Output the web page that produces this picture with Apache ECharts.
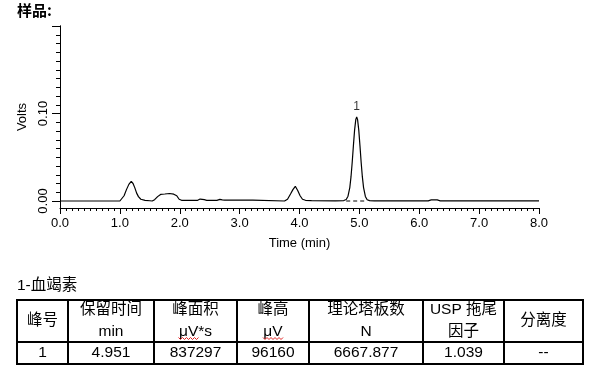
<!DOCTYPE html>
<html><head><meta charset="utf-8">
<script src="https://cdn.jsdelivr.net/npm/echarts@6/dist/echarts.min.js"></script>
<style>html,body{margin:0;padding:0;background:#fff}#c{width:601px;height:377px}</style>
</head><body><div id="c"></div>
<script>
const chartTitle = '样品:';
const compoundTitle = '1-血竭素';
const xAxisName = 'Time (min)';
const yAxisName = 'Volts';

const times = [0.00, 0.50, 1.00, 1.03, 1.07, 1.11, 1.15, 1.19, 1.22, 1.25, 1.28, 1.31, 1.35, 1.42, 1.50, 1.54,
  1.58, 1.63, 1.68, 1.75, 1.83, 1.90, 1.95, 1.99, 2.03, 2.30, 2.34, 2.37, 2.41, 2.45, 2.62, 2.67, 2.71, 2.75,
  3.22, 3.24, 3.75, 3.80, 3.85, 3.89, 3.93, 3.97, 4.01, 4.05, 4.10, 4.20, 4.60, 4.74, 4.78, 4.81, 4.84, 4.86,
  4.88, 4.90, 4.92, 4.94, 4.955, 4.97, 4.99, 5.01, 5.03, 5.05, 5.07, 5.10, 5.13, 5.17, 5.25, 6.15, 6.20, 6.30,
  6.35, 8.00];
const volts = [0.0000, 0.0000, 0.0000, 0.0010, 0.0060, 0.0130, 0.0190, 0.0225, 0.0200, 0.0150, 0.0090, 0.0050,
  0.0020, 0.0008, 0.0003, 0.0000, 0.0015, 0.0050, 0.0075, 0.0080, 0.0086, 0.0078, 0.0060, 0.0020, 0.0008,
  0.0008, 0.0022, 0.0028, 0.0015, 0.0008, 0.0008, 0.0018, 0.0012, 0.0009, 0.0009, 0.0001, 0.0000, 0.0020,
  0.0080, 0.0130, 0.0168, 0.0120, 0.0060, 0.0020, 0.0008, 0.0004, 0.0002, 0.0005, 0.0018, 0.0055, 0.0153,
  0.0275, 0.0440, 0.0630, 0.0810, 0.0930, 0.0962, 0.0930, 0.0810, 0.0630, 0.0440, 0.0275, 0.0153, 0.0052,
  0.0014, 0.0004, 0.0002, 0.0002, 0.0012, 0.0012, 0.0002, 0.0002];

const baselineTimes = [4.78, 5.13];
const baselineVolts = [0.0000, 0.0000];

const peakTimes = [4.955];
const peakVolts = [0.0962];
const peakLabels = ['1'];

const yLabelTicks = [0, 0.1];
const yMajorTicks = [0, 0.1, 0.2];
const yMinorTicks = [0.01, 0.02, 0.03, 0.04, 0.05, 0.06, 0.07, 0.08, 0.09,
  0.11, 0.12, 0.13, 0.14, 0.15, 0.16, 0.17, 0.18, 0.19];

const tableHeader1 = ['峰号', '保留时间', '峰面积', '峰高', '理论塔板数', 'USP 拖尾', '分离度'];
const tableHeader2 = ['', 'min', 'μV*s', 'μV', 'N', '因子', ''];
const tableRow = ['1', '4.951', '837297', '96160', '6667.877', '1.039', '--'];

// ---- layout ----
const latin = "'Liberation Sans', Arial, 'Noto Sans CJK SC', sans-serif";
const cjk = "'Noto Sans CJK SC', 'Liberation Sans', sans-serif";
const colX = [17, 68, 154, 237, 309, 423, 504, 583];
const rowY = [300, 342, 364];
const tFont = 15.5;

const graphics = [];
graphics.push({type: 'text', left: 17, top: 3, style: {text: chartTitle, fontSize: 15, fontWeight: 'bold', fontFamily: cjk, fill: '#000'}});
graphics.push({type: 'text', x: 17, y: 285.5, style: {text: compoundTitle, fontSize: tFont, fontFamily: latin, fill: '#000', verticalAlign: 'middle', align: 'left'}});
rowY.forEach(y => graphics.push({type: 'line', shape: {x1: colX[0] - 1, y1: y, x2: colX[colX.length - 1] + 1, y2: y}, style: {stroke: '#000', lineWidth: 2}}));
colX.forEach(x => graphics.push({type: 'line', shape: {x1: x, y1: rowY[0], x2: x, y2: rowY[rowY.length - 1]}, style: {stroke: '#000', lineWidth: 2}}));
for (let i = 0; i < tableHeader1.length; i++) {
  const cx = (colX[i] + colX[i + 1]) / 2;
  if (tableHeader2[i]) {
    graphics.push({type: 'text', x: cx, y: 310, style: {text: tableHeader1[i], fontSize: tFont, fontFamily: latin, fill: '#000', align: 'center', verticalAlign: 'middle'}});
    graphics.push({type: 'text', x: cx, y: 331.5, style: {text: tableHeader2[i], fontSize: tFont, fontFamily: latin, fill: '#000', align: 'center', verticalAlign: 'middle'}});
  } else {
    graphics.push({type: 'text', x: cx, y: 320.5, style: {text: tableHeader1[i], fontSize: tFont, fontFamily: latin, fill: '#000', align: 'center', verticalAlign: 'middle'}});
  }
  graphics.push({type: 'text', x: cx, y: 353, style: {text: tableRow[i], fontSize: tFont, fontFamily: latin, fill: '#000', align: 'center', verticalAlign: 'middle'}});
}
// spell-check style wavy underline under "μV"
function wave(x0, x1, y) {
  const pts = [];
  let k = 0;
  for (let x = x0; x <= x1; x += 2, k++) pts.push([x, y + (k % 2 ? 1.5 : -0.5)]);
  return {type: 'polyline', shape: {points: pts}, style: {stroke: '#e02020', lineWidth: 1, fill: null}};
}
const c2 = (colX[2] + colX[3]) / 2, c3 = (colX[3] + colX[4]) / 2;
graphics.push(wave(c2 - 17, c2 + 3, 338));
graphics.push(wave(c3 - 10, c3 + 10, 338));

const chart = echarts.init(document.getElementById('c'), null, {renderer: 'canvas'});
const axisTextStyle = {color: '#000', fontSize: 13, fontFamily: latin};
chart.setOption({
  animation: false,
  backgroundColor: '#fff',
  grid: {left: 60, right: 62, top: 26, bottom: 169, containLabel: false},
  xAxis: {
    type: 'value', min: 0, max: 8, interval: 1,
    name: xAxisName, nameLocation: 'middle', nameGap: 29,
    nameTextStyle: {color: '#000', fontSize: 13, fontFamily: latin},
    axisLine: {onZero: false, lineStyle: {color: '#000', width: 1}},
    axisTick: {show: true, length: 6, lineStyle: {color: '#000'}},
    minorTick: {show: true, splitNumber: 10, length: 3, lineStyle: {color: '#000'}},
    splitLine: {show: false}, minorSplitLine: {show: false},
    axisLabel: Object.assign({margin: 9, formatter: v => v.toFixed(1)}, axisTextStyle)
  },
  yAxis: [{
    type: 'value', min: -0.008, max: 0.2, position: 'left',
    name: yAxisName, nameLocation: 'middle', nameGap: 24, nameRotate: 90,
    nameTextStyle: {color: '#000', fontSize: 13, fontFamily: latin},
    axisLine: {show: true, onZero: false, lineStyle: {color: '#000', width: 1}},
    axisTick: {show: true, length: 8, customValues: yMajorTicks, lineStyle: {color: '#000'}},
    splitLine: {show: false},
    axisLabel: Object.assign({rotate: 90, margin: 10, customValues: yLabelTicks, formatter: v => v.toFixed(2)}, axisTextStyle)
  }, {
    type: 'value', min: -0.008, max: 0.2, position: 'left', offset: 0,
    axisLine: {show: true, onZero: false, lineStyle: {color: '#000', width: 1}},
    axisTick: {show: true, length: 4, customValues: yMinorTicks, lineStyle: {color: '#000'}},
    splitLine: {show: false},
    axisLabel: {show: false}
  }],
  series: [{
    type: 'line', xAxisIndex: 0, yAxisIndex: 0,
    data: times.map((t, i) => [t, volts[i]]),
    symbol: 'none', smooth: false,
    lineStyle: {color: '#000', width: 1.2}
  }, {
    type: 'line', xAxisIndex: 0, yAxisIndex: 0,
    data: baselineTimes.map((t, i) => [t, baselineVolts[i]]),
    symbol: 'none',
    lineStyle: {color: '#000', width: 1, type: [4, 3]}
  }, {
    type: 'scatter', xAxisIndex: 0, yAxisIndex: 0,
    data: peakTimes.map((t, i) => ({value: [t, peakVolts[i]], name: peakLabels[i]})),
    symbolSize: 0,
    label: {show: true, position: 'top', distance: 4, formatter: p => p.name, color: '#000', fontSize: 12, fontFamily: latin},
    silent: true
  }],
  graphic: graphics
});
</script></body></html>
